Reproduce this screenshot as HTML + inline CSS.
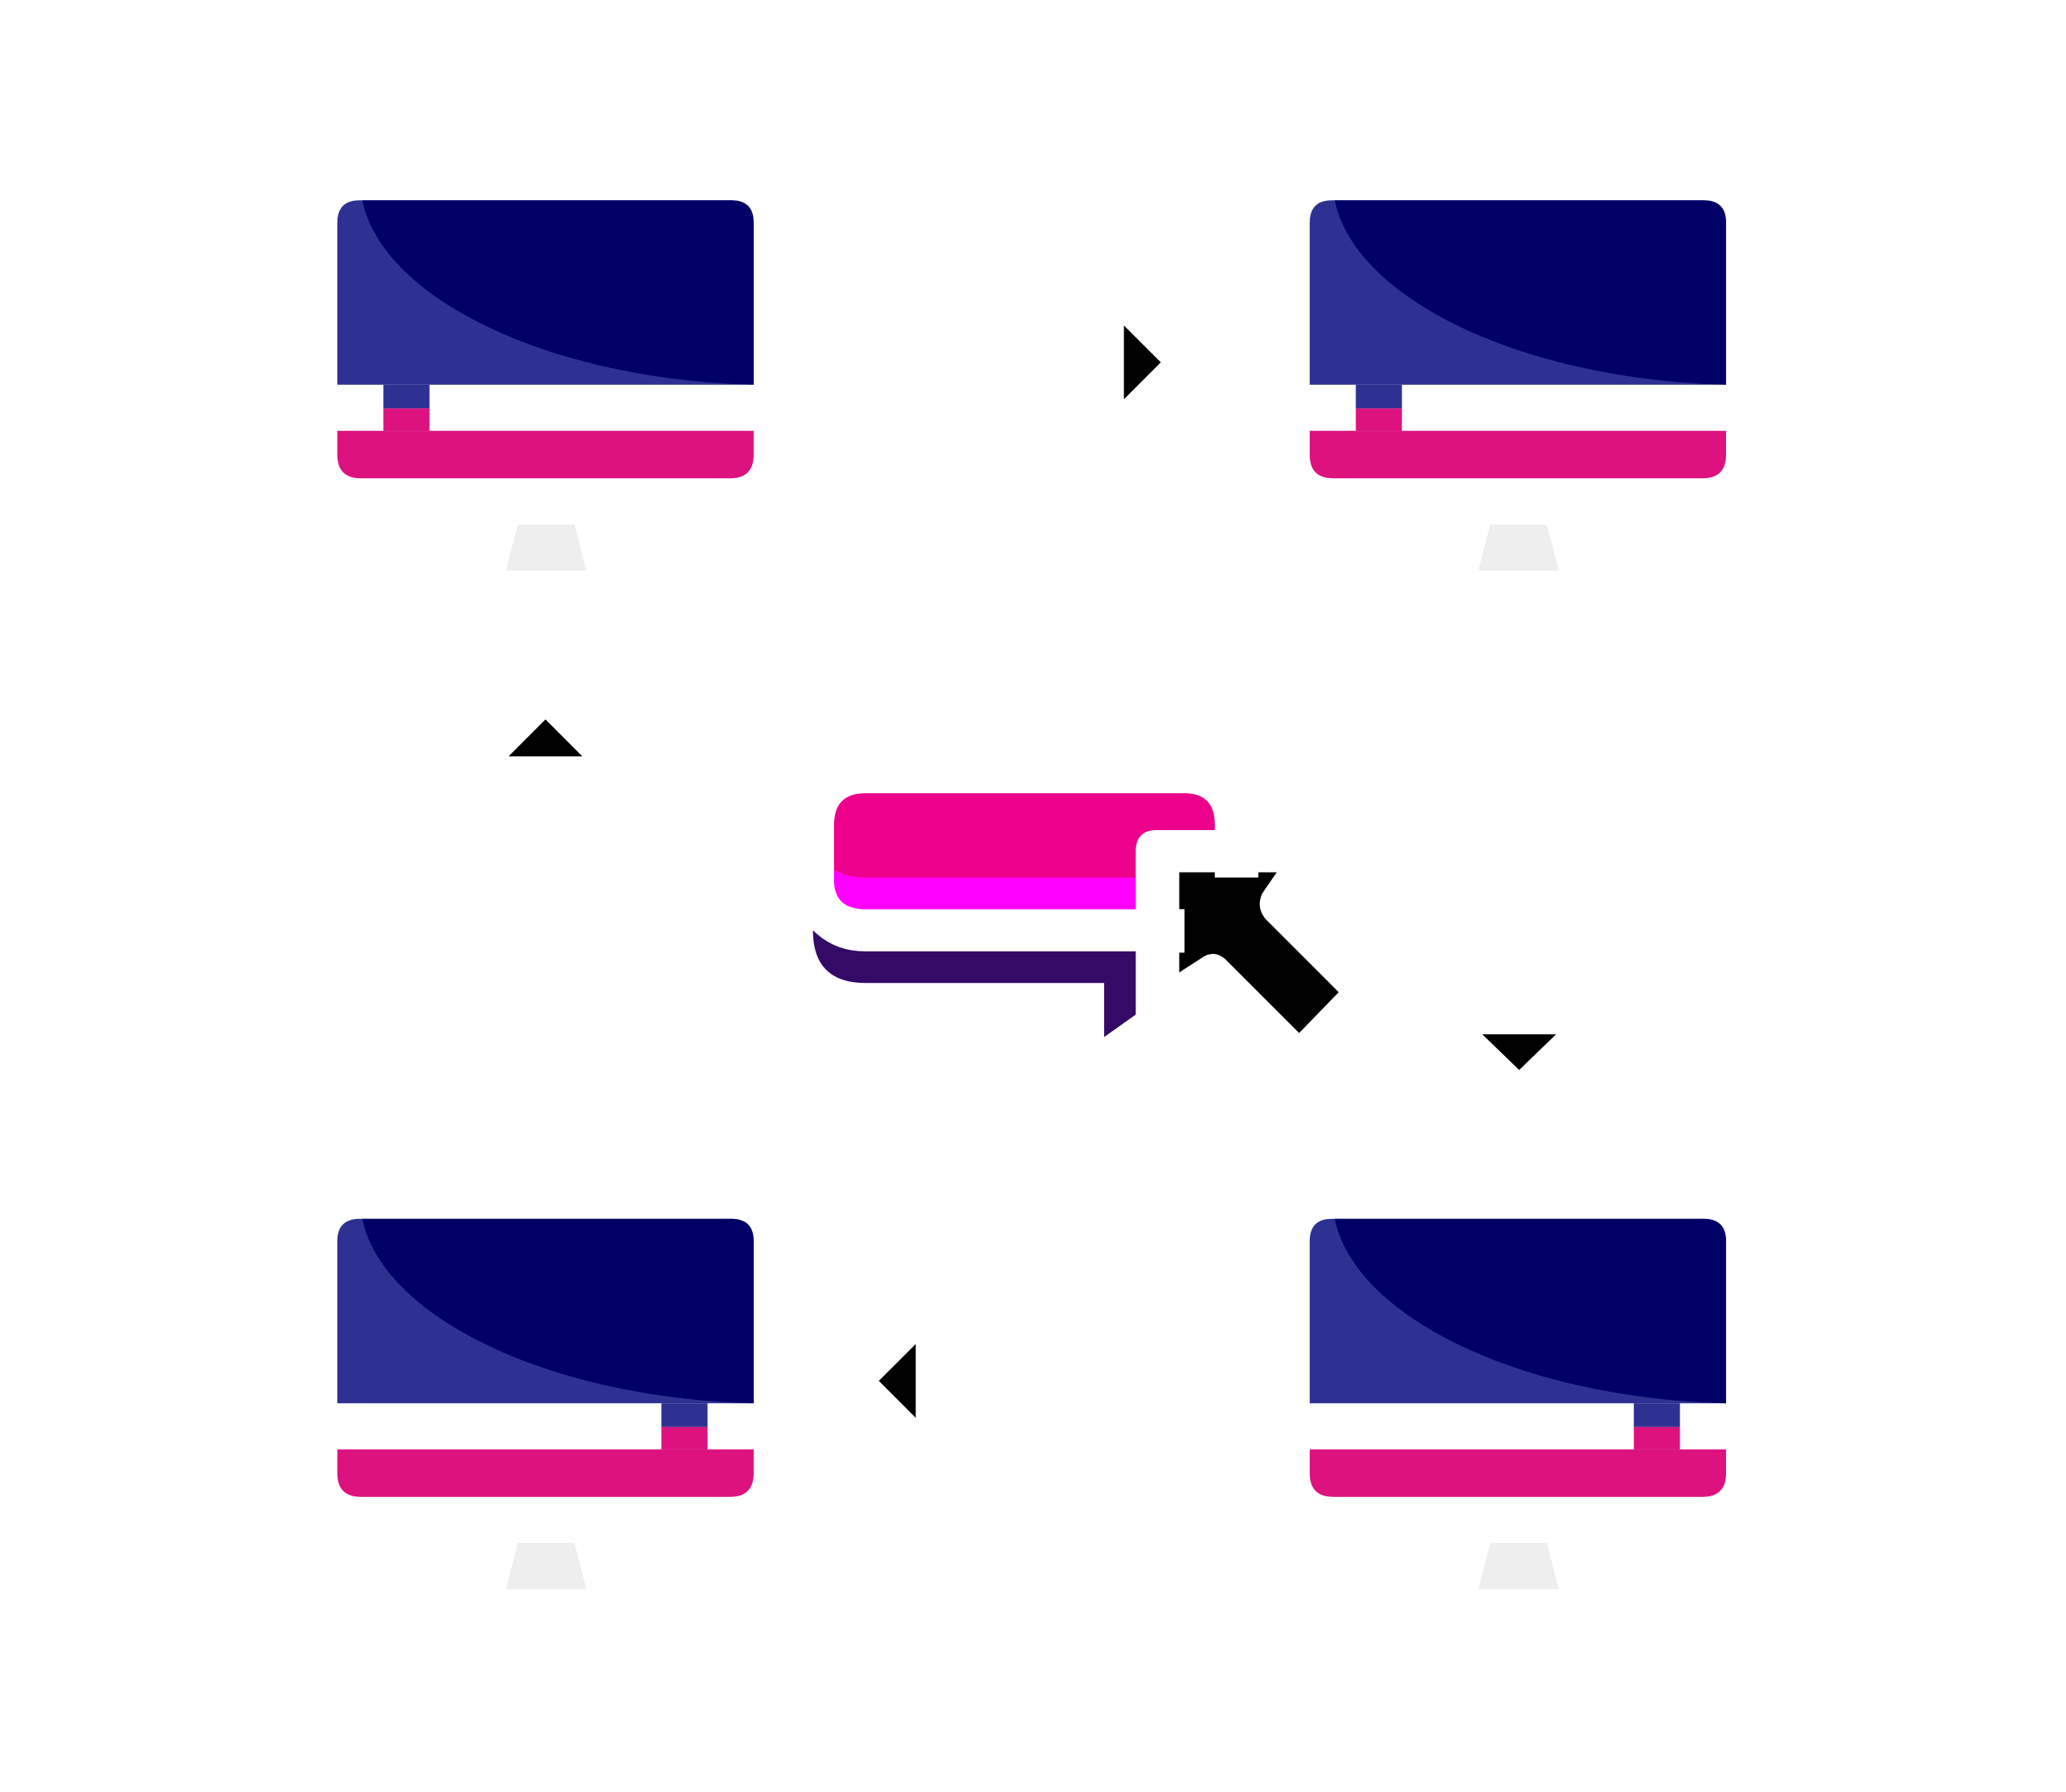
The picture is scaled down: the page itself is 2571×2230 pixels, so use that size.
<!DOCTYPE html>
<html><head><style>html,body{margin:0;padding:0;background:#fff}svg{display:block}</style></head>
<body>
<svg width="2571" height="2230" viewBox="0 0 1568 1360" preserveAspectRatio="none" xmlns="http://www.w3.org/2000/svg">
<defs>
<g id="mon">
<path d="M0,17 Q0,0 17,0 L299,0 Q316,0 316,17 L316,140 L0,140 Z" fill="#2e3192"/>
<path d="M19,0 L299,0 Q316,0 316,17 L316,140 C160,136 34,74 19,0 Z" fill="#000066"/>
<path d="M0,175 L316,175 L316,193 Q316,211 298,211 L18,211 Q0,211 0,193 Z" fill="#dd127f"/>
<path d="M137,246 L180,246 L189,281 L128,281 Z" fill="#eeeeee"/>
</g>
</defs>
<g transform="translate(256,152)"><use href="#mon"/><rect x="35" y="140" width="35" height="18" fill="#2e3192"/><rect x="35" y="158" width="35" height="17" fill="#dd127f"/></g>
<g transform="translate(994,152)"><use href="#mon"/><rect x="35" y="140" width="35" height="18" fill="#2e3192"/><rect x="35" y="158" width="35" height="17" fill="#dd127f"/></g>
<g transform="translate(256,925)"><use href="#mon"/><rect x="246" y="140" width="35" height="18" fill="#2e3192"/><rect x="246" y="158" width="35" height="17" fill="#dd127f"/></g>
<g transform="translate(994,925)"><use href="#mon"/><rect x="246" y="140" width="35" height="18" fill="#2e3192"/><rect x="246" y="158" width="35" height="17" fill="#dd127f"/></g>
<polygon points="853,247 881,275 853,303" fill="#000"/>
<polygon points="386,574 414,546 442,574" fill="#000"/>
<polygon points="1125,785 1181,785 1153,812" fill="#000"/>
<polygon points="695,1020 667,1048 695,1076" fill="#000"/>
<path d="M633,626 Q633,602 657,602 L899,602 Q922,602 922,626 L922,630 L878,630 Q862,630 862,646 L862,690 L657,690 Q633,690 633,666 Z" fill="#ec008c"/>
<path d="M633,660 Q643,666 657,666 L862,666 L862,690 L657,690 Q633,690 633,668 Z" fill="#ff00ff"/>
<path d="M617,706 Q633,722 657,722 L862,722 L862,770 L838,787 L838,746 L657,746 Q617,746 617,706 Z" fill="#330a66"/>
<path d="M895,662 L922,662 L922,666 L955,666 L955,662 L969,662 L958,678 Q953,689 961,698 L1016,753 L986,784 L931,729 Q922,720 912,727 L895,738 L895,723 L899,723 L899,690 L895,690 Z" fill="#000"/>
</svg>
</body></html>
